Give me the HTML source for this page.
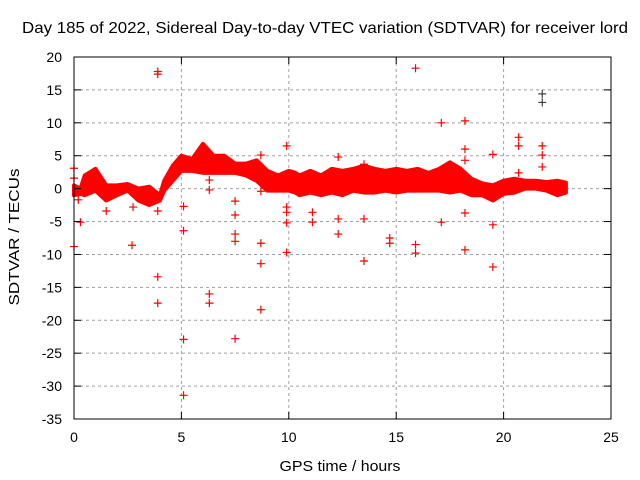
<!DOCTYPE html>
<html><head><meta charset="utf-8"><style>
body{margin:0;background:#fff}
svg{display:block;font-family:"Liberation Sans",sans-serif}
</style></head><body>
<svg id="chart" width="640" height="480">
<text x="325" y="33" text-anchor="middle" font-size="16" textLength="606" lengthAdjust="spacingAndGlyphs">Day 185 of 2022, Sidereal Day-to-day VTEC variation (SDTVAR) for receiver lord</text>
<text x="340" y="471" text-anchor="middle" font-size="15" textLength="121" lengthAdjust="spacingAndGlyphs">GPS time / hours</text>
<text transform="translate(19,237) rotate(-90)" text-anchor="middle" font-size="15" textLength="137" lengthAdjust="spacingAndGlyphs">SDTVAR / TECUs</text>
<g id="grid"></g><g id="band"></g><g id="marks"></g><g id="axes"></g>
</svg>
<script>
const xTicks=[0,5,10,15,20,25];
const yTicks=[20,15,10,5,0,-5,-10,-15,-20,-25,-30,-35];
const bandTimes=[0,0.3,0.5,1.0,1.5,2.0,2.5,3.0,3.5,4.0,4.2,4.6,5.0,5.5,6.0,6.5,7.0,7.5,8.0,8.5,9.0,9.5,10.0,10.3,10.5,11.0,11.5,12.0,12.5,13.0,13.5,14.0,14.5,15.0,15.5,16.0,16.5,17.0,17.5,18.0,18.5,19.0,19.5,20.0,20.5,21.0,21.5,22.0,22.5,22.9];
const bandUpper=[0.5,0,2,3,0.5,0.5,0.7,0,0.3,-1,1.2,3.5,5,4.5,6.8,5,5,3.8,3.8,4.3,2.7,2,2.7,2.4,2,2.7,2,3,2.7,3,3.5,3,2.7,3,2.7,3,2.4,3,4,3,1.5,0.8,0.5,1.2,1.5,1.2,1.2,1,1.2,0.9];
const bandLower=[-1,-0.8,-1,-0.3,-1.8,-1,-0.3,-1.8,-2.5,-1.8,-0.3,1.2,2.7,2.7,2.4,2.4,2.4,2.4,2,1.2,-0.3,-0.3,-0.3,-0.6,-1,-0.6,-1,-0.6,-1,-0.3,-0.6,-0.6,-0.3,-0.6,-0.3,-0.3,-0.3,-0.3,-0.6,-0.3,-1,-1,-1.8,-0.8,-0.6,0,0,-0.3,-1,-0.6];
const outT=[0,0,0,0.2,0.3,1.5,2.7,2.75,3.9,3.9,3.9,3.9,3.9,5.1,5.1,5.1,5.1,6.3,6.3,6.3,6.3,7.5,7.5,7.5,7.5,7.5,8.7,8.7,8.7,8.7,8.7,9.9,9.9,9.9,9.9,9.9,11.1,11.1,12.3,12.3,12.3,13.5,13.5,13.5,14.7,14.7,15.9,15.9,15.9,17.1,17.1,18.2,18.2,18.2,18.2,18.2,19.5,19.5,19.5,20.7,20.7,20.7,21.8,21.8,21.8];
const outV=[3.1,1.6,-8.8,-1.7,-5.1,-3.4,-8.6,-2.8,17.8,17.4,-3.4,-13.4,-17.4,-2.7,-6.4,-22.9,-31.4,1.3,-0.2,-16,-17.4,-1.9,-4,-6.9,-8,-22.8,5.1,-0.4,-8.3,-11.4,-18.4,6.5,-2.8,-3.6,-5.2,-9.7,-3.6,-5.1,4.8,-4.6,-6.9,3.7,-4.6,-11,-7.5,-8.3,18.3,-8.5,-9.8,10,-5.1,10.3,6,4.3,-3.7,-9.3,5.2,-5.5,-11.9,7.8,6.5,2.4,6.5,5.1,3.3];
const darkT=[21.8,21.8];
const darkV=[14.4,13.1];
const X0=74,X1=611,Y0=57,Y1=419,xmin=0,xmax=25,ymin=-35,ymax=20;
const sx=t=>X0+(t-xmin)/(xmax-xmin)*(X1-X0);
const sy=v=>Y1-(v-ymin)/(ymax-ymin)*(Y1-Y0);
const NS='http://www.w3.org/2000/svg';
function mk(p,tag,at){const e=document.createElementNS(NS,tag);for(const k in at)e.setAttribute(k,at[k]);p.appendChild(e);return e;}
const grid=document.getElementById('grid'),axes=document.getElementById('axes'),band=document.getElementById('band'),marks=document.getElementById('marks');
xTicks.forEach(t=>{const x=sx(t);
 if(t>xmin&&t<xmax){const g=mk(grid,'line',{x1:x,x2:x,y1:Y0,y2:Y1,stroke:'#a0a0a0','stroke-dasharray':'3,3'});
 
 }
 mk(axes,'line',{x1:x,x2:x,y1:Y1,y2:Y1-7,stroke:'#000'});mk(axes,'line',{x1:x,x2:x,y1:Y0,y2:Y0+7,stroke:'#000'});
 const l=mk(axes,'text',{x:x,y:Y1+23,'text-anchor':'middle','font-size':14});l.textContent=t;
 
 });
yTicks.forEach(v=>{const y=sy(v);
 if(v>ymin&&v<ymax){const g=mk(grid,'line',{x1:X0,x2:X1,y1:y,y2:y,stroke:'#a0a0a0','stroke-dasharray':'3,3'});
 
 }
 mk(axes,'line',{x1:X0,x2:X0+7,y1:y,y2:y,stroke:'#000'});mk(axes,'line',{x1:X1,x2:X1-7,y1:y,y2:y,stroke:'#000'});
 const l=mk(axes,'text',{x:X0-12,y:y+5,'text-anchor':'end','font-size':14});l.textContent=v;
 
 });
const fr=mk(axes,'rect',{x:X0,y:Y0,width:X1-X0,height:Y1-Y0,fill:'none',stroke:'#000'});


let pts=bandTimes.map((t,i)=>sx(t)+','+sy(bandUpper[i]));
for(let i=bandTimes.length-1;i>=0;i--)pts.push(sx(bandTimes[i])+','+sy(bandLower[i]));
const poly=mk(band,'polygon',{points:pts.join(' '),fill:'#ff0000',stroke:'#ff0000','stroke-width':4,'stroke-linejoin':'round'});


function plus(t,v,c){const x=sx(t),y=sy(v);
 const g=mk(marks,'path',{d:`M${x-4},${y}h8M${x},${y-4}v8`,stroke:c,'stroke-width':1.2,fill:'none'});
 
 }
outT.forEach((t,i)=>plus(t,outV[i],'#ff0000'));
darkT.forEach((t,i)=>plus(t,darkV[i],'#404040'));
</script>
</body></html>
